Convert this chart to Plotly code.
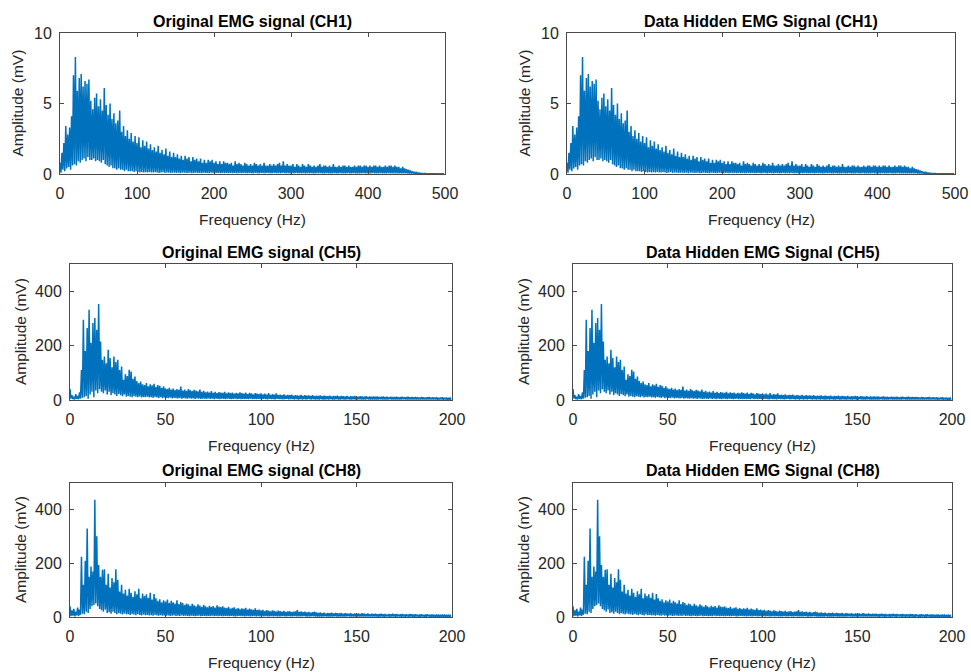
import numpy as np
import plotly.graph_objects as go

# ---------------- data ----------------
# CH1 spectrum: local maxima every 2.5 Hz and local minima midway between them (mV)
CH1_STEP = 2.5
ch1_peaks = [
    0.8, 1.5, 2.2, 3.4, 2.8, 3.3, 4.1, 7.0, 8.3, 5.9, 6.8, 7.1, 6.2, 6.6, 6.4, 6.7, 5.2, 4.6, 5.4, 5.7,
    4.8, 5.3, 4.5, 6.1, 4.9, 4.2, 5.0, 3.9, 4.3, 3.6, 3.8, 4.5, 3.0, 3.4, 2.7, 3.1, 2.5, 2.9, 2.3, 2.7,
    2.2, 2.6, 1.9, 2.4, 2.0, 2.3, 1.8, 2.1, 1.7, 1.9, 1.6, 2.0, 1.5, 1.7, 1.4, 1.8, 1.3, 1.6, 1.2, 1.5,
    1.2, 1.4, 1.1, 1.3, 1.0, 1.3, 1.1, 1.2, 0.9, 1.2, 1.0, 1.1, 0.9, 1.1, 0.8, 1.0, 0.8, 1.0, 0.9, 1.0,
    0.8, 0.9, 0.7, 0.9, 0.7, 0.9, 0.8, 0.8, 0.7, 0.8, 0.6, 0.9, 0.7, 0.8, 0.7, 0.6, 0.8, 0.7, 0.6, 0.7,
    0.6, 0.8, 0.7, 0.6, 0.7, 0.6, 0.8, 0.6, 0.6, 0.7, 0.6, 0.7, 0.6, 0.7, 0.8, 0.6, 0.9, 0.6, 0.7, 0.6,
    0.6, 0.7, 0.5, 0.7, 0.6, 0.5, 0.7, 0.6, 0.5, 0.7, 0.6, 0.5, 0.6, 0.5, 0.6, 0.7, 0.5, 0.6, 0.6, 0.5,
    0.6, 0.5, 0.7, 0.5, 0.5, 0.6, 0.5, 0.6, 0.6, 0.5, 0.6, 0.5, 0.5, 0.6, 0.5, 0.6, 0.6, 0.5, 0.6, 0.6,
    0.5, 0.6, 0.5, 0.6, 0.6, 0.5, 0.6, 0.5, 0.5, 0.6, 0.5, 0.6, 0.6, 0.5, 0.6, 0.5, 0.5, 0.4, 0.5, 0.4,
    0.35, 0.3, 0.25, 0.2, 0.15, 0.12, 0.08, 0.06, 0.05, 0.04, 0.03, 0.03, 0.02, 0.02, 0.02, 0.02, 0.02, 0.01, 0.01, 0.01,
]
ch1_troughs = [
    0.1, 0.3, 0.2, 0.4, 0.5, 0.3, 0.6, 0.7, 0.6, 0.9, 0.8, 1.0, 1.1, 0.9, 1.2, 1.0, 1.0, 1.1, 0.9, 1.0,
    0.9, 0.8, 1.0, 0.7, 0.6, 0.5, 0.6, 0.4, 0.4, 0.3, 0.4, 0.3, 0.3, 0.2, 0.3, 0.2, 0.2, 0.2, 0.15, 0.2,
    0.15, 0.1, 0.15, 0.1, 0.12, 0.1, 0.15, 0.1, 0.1, 0.12, 0.1, 0.08, 0.1, 0.12, 0.08, 0.1, 0.1, 0.08, 0.1, 0.1,
    0.08, 0.1, 0.06, 0.09, 0.1, 0.07, 0.08, 0.1, 0.06, 0.08, 0.09, 0.07, 0.08, 0.06, 0.1, 0.07, 0.08, 0.06, 0.09, 0.07,
    0.06, 0.08, 0.07, 0.05, 0.08, 0.06, 0.07, 0.05, 0.08, 0.06, 0.07, 0.06, 0.05, 0.08, 0.06, 0.07, 0.05, 0.06, 0.08, 0.06,
    0.05, 0.07, 0.06, 0.05, 0.07, 0.06, 0.05, 0.07, 0.06, 0.05, 0.06, 0.07, 0.05, 0.06, 0.05, 0.07, 0.06, 0.05, 0.06, 0.05,
    0.06, 0.05, 0.07, 0.05, 0.06, 0.05, 0.06, 0.04, 0.06, 0.05, 0.06, 0.05, 0.04, 0.06, 0.05, 0.06, 0.04, 0.05, 0.06, 0.05,
    0.05, 0.04, 0.06, 0.05, 0.04, 0.06, 0.05, 0.04, 0.05, 0.06, 0.04, 0.05, 0.06, 0.04, 0.05, 0.05, 0.04, 0.06, 0.05, 0.04,
    0.05, 0.04, 0.06, 0.05, 0.04, 0.05, 0.06, 0.04, 0.05, 0.04, 0.06, 0.05, 0.04, 0.05, 0.04, 0.05, 0.04, 0.04, 0.05, 0.04,
    0.04, 0.04, 0.03, 0.03, 0.02, 0.02, 0.02, 0.02, 0.01, 0.01, 0.01, 0.01, 0.01, 0.01, 0.01, 0.01, 0.01, 0.01, 0.01, 0.01,
]

# CH5 spectrum: local maxima every 1 Hz and minima midway (mV)
CH5_STEP = 1.0
ch5_peaks = [
    40, 18, 12, 22, 15, 28, 110, 295, 180, 265,
    332, 210, 283, 301, 258, 353, 215, 148, 160, 135,
    185, 154, 120, 160, 140, 148, 110, 123, 74, 95,
    88, 111, 105, 78, 86, 70, 62, 68, 58, 55,
    62, 50, 58, 54, 60, 48, 55, 52, 45, 50,
    43, 40, 45, 38, 42, 36, 40, 37, 49, 35,
    38, 34, 40, 36, 33, 37, 35, 32, 38, 30,
    34, 28, 31, 27, 33, 26, 30, 25, 29, 27,
    26, 30, 24, 28, 25, 27, 23, 26, 24, 28,
    25, 23, 27, 22, 26, 24, 21, 25, 23, 22,
    24, 21, 23, 20, 25, 19, 22, 20, 24, 18,
    20, 18, 21, 17, 19, 18, 20, 16, 18, 17,
    16, 19, 15, 18, 16, 17, 15, 18, 14, 16,
    15, 17, 14, 16, 15, 14, 16, 13, 15, 14,
    16, 13, 15, 14, 13, 15, 12, 14, 13, 15,
    13, 12, 14, 13, 12, 14, 11, 13, 12, 13,
    12, 13, 11, 12, 13, 11, 12, 10, 12, 11,
    11, 12, 10, 11, 12, 10, 11, 12, 10, 11,
    10, 11, 10, 9, 11, 10, 9, 10, 11, 9,
    10, 9, 10, 8, 9, 10, 8, 9, 8, 7,
]
ch5_troughs = [
    5, 3, 2, 4, 3, 5, 8, 10, 15, 5,
    20, 30, 10, 35, 25, 40, 30, 25, 35, 20,
    30, 18, 25, 20, 15, 22, 18, 14, 20, 12,
    15, 12, 10, 14, 12, 10, 13, 9, 11, 10,
    12, 9, 10, 8, 11, 9, 8, 10, 7, 9,
    8, 7, 9, 6, 8, 7, 6, 8, 5, 7,
    6, 5, 7, 5, 6, 4, 6, 5, 4, 5,
    5, 4, 6, 4, 5, 3, 5, 4, 3, 5,
    4, 3, 5, 4, 3, 4, 5, 3, 4, 3,
    4, 3, 4, 3, 5, 3, 4, 3, 4, 3,
    3, 4, 3, 2, 4, 3, 3, 2, 4, 3,
    3, 2, 3, 4, 2, 3, 3, 2, 3, 2,
    3, 2, 3, 2, 3, 3, 2, 3, 2, 3,
    2, 3, 2, 2, 3, 2, 3, 2, 2, 3,
    2, 2, 3, 2, 2, 3, 2, 2, 3, 2,
    2, 3, 2, 2, 2, 3, 2, 2, 2, 2,
    2, 2, 3, 2, 2, 2, 2, 3, 2, 2,
    2, 2, 2, 2, 3, 2, 2, 2, 2, 2,
    2, 2, 2, 2, 2, 2, 2, 2, 2, 2,
    2, 2, 1, 2, 2, 1, 2, 1, 1, 1,
]

# CH8 spectrum: local maxima every 1 Hz and minima midway (mV)
CH8_STEP = 1.0
ch8_peaks = [
    40, 25, 30, 20, 35, 28, 225, 120, 210, 330,
    150, 188, 170, 437, 301, 194, 150, 176, 178, 120,
    161, 110, 145, 130, 178, 139, 95, 120, 88, 102,
    80, 105, 90, 75, 96, 85, 105, 70, 88, 78,
    85, 72, 90, 65, 86, 70, 60, 66, 55, 62,
    58, 65, 52, 60, 55, 50, 62, 48, 56, 52,
    45, 50, 47, 42, 49, 44, 40, 47, 43, 38,
    45, 40, 36, 42, 38, 41, 35, 44, 39, 37,
    40, 35, 33, 38, 31, 34, 36, 30, 33, 29,
    32, 30, 34, 28, 31, 29, 27, 32, 26, 28,
    25, 27, 22, 26, 24, 21, 25, 23, 20, 24,
    22, 20, 23, 19, 21, 22, 18, 20, 21, 26,
    19, 21, 18, 20, 17, 19, 16, 18, 20, 17,
    15, 17, 14, 16, 13, 15, 14, 16, 13, 15,
    14, 13, 15, 12, 14, 13, 12, 14, 11, 13,
    12, 13, 11, 14, 12, 11, 13, 10, 12, 11,
    12, 10, 11, 12, 10, 11, 9, 11, 10, 12,
    10, 11, 9, 10, 11, 9, 10, 9, 11, 10,
    9, 10, 8, 9, 10, 8, 9, 10, 8, 9,
    9, 8, 9, 7, 8, 9, 7, 8, 7, 6,
]
ch8_troughs = [
    3, 5, 2, 6, 4, 8, 12, 10, 20, 15,
    30, 40, 45, 50, 40, 30, 25, 20, 28, 15,
    18, 12, 20, 15, 10, 14, 12, 9, 13, 10,
    10, 8, 11, 9, 7, 10, 8, 6, 9, 7,
    8, 6, 7, 5, 8, 6, 5, 7, 5, 6,
    5, 6, 4, 5, 6, 4, 5, 4, 6, 4,
    5, 4, 3, 5, 4, 3, 4, 5, 3, 4,
    4, 3, 4, 3, 5, 3, 4, 3, 4, 3,
    3, 4, 3, 3, 4, 3, 2, 3, 4, 3,
    3, 2, 3, 3, 2, 3, 3, 2, 3, 2,
    3, 2, 3, 2, 2, 3, 2, 3, 2, 2,
    2, 3, 2, 2, 3, 2, 2, 3, 2, 2,
    2, 2, 3, 2, 2, 2, 3, 2, 2, 2,
    2, 2, 2, 3, 2, 2, 2, 2, 3, 2,
    2, 2, 2, 2, 2, 3, 2, 2, 2, 2,
    2, 2, 2, 2, 2, 2, 2, 2, 2, 2,
    2, 1, 2, 2, 1, 2, 2, 1, 2, 2,
    1, 2, 2, 1, 2, 1, 2, 1, 2, 1,
    1, 2, 1, 1, 2, 1, 1, 2, 1, 1,
    1, 1, 1, 1, 1, 1, 1, 1, 1, 1,
]

titles_left = ["Original EMG signal (CH1)", "Original EMG signal (CH5)", "Original EMG signal (CH8)"]
titles_right = ["Data Hidden EMG Signal (CH1)", "Data Hidden EMG Signal (CH5)", "Data Hidden EMG Signal (CH8)"]
x_title = "Frequency (Hz)"
y_title = "Amplitude (mV)"
xticks_ch1 = [0, 100, 200, 300, 400, 500]
xticks_ch58 = [0, 50, 100, 150, 200]
yticks_ch1 = [0, 5, 10]
yticks_ch58 = [0, 200, 400]
x_ranges = [[0, 500], [0, 200], [0, 200]]
y_ranges = [[0, 10], [0, 500], [0, 500]]


def spectrum(peaks, troughs, step):
    n = min(len(peaks), len(troughs))
    f = np.empty(2 * n)
    a = np.empty(2 * n)
    f[0::2] = np.arange(n) * step
    f[1::2] = np.arange(n) * step + step / 2
    a[0::2] = peaks[:n]
    a[1::2] = troughs[:n]
    return f, a


spectra = [
    spectrum(ch1_peaks, ch1_troughs, CH1_STEP),
    spectrum(ch5_peaks, ch5_troughs, CH5_STEP),
    spectrum(ch8_peaks, ch8_troughs, CH8_STEP),
]
xticks = [xticks_ch1, xticks_ch58, xticks_ch58]
yticks = [yticks_ch1, yticks_ch58, yticks_ch58]

# ---------------- layout geometry (pixels) ----------------
W, H = 971, 672
# (left, right, top, bottom) for each panel
boxes = [
    (60, 445, 33, 174), (567, 955, 33, 174),
    (70, 452, 264, 400), (573, 952, 264, 400),
    (70, 452, 483, 617), (573, 952, 483, 617),
]

FONT = "Liberation Sans, Arial, sans-serif"
AXC = "#4a4a4a"
TXT = "#262626"
BLUE = "#0072BD"

fig = go.Figure()
layout = dict(
    width=W, height=H, margin=dict(l=0, r=0, t=0, b=0, autoexpand=False),
    paper_bgcolor="white", plot_bgcolor="white", showlegend=False,
    font=dict(family=FONT, color=TXT),
)
annotations = []

for i, (l, r, t, b) in enumerate(boxes):
    row = i // 2
    col = i % 2
    k = i + 1
    sfx = "" if k == 1 else str(k)
    f, a = spectra[row]
    fig.add_trace(go.Scatter(
        x=f, y=a, mode="lines", line=dict(color=BLUE, width=1.5),
        xaxis="x" + sfx, yaxis="y" + sfx, hoverinfo="skip",
    ))
    common = dict(
        showline=True, linecolor=AXC, linewidth=1, mirror="ticks",
        ticks="inside", ticklen=4, tickcolor=AXC, tickwidth=1,
        showgrid=False, zeroline=False, automargin=False,
        tickfont=dict(family=FONT, size=16, color=TXT),
    )
    layout["xaxis" + sfx] = dict(
        common, domain=[l / W, r / W], anchor="y" + sfx,
        range=x_ranges[row], tickvals=xticks[row], ticktext=[str(v) for v in xticks[row]],
        ticklabelstandoff=5,
    )
    layout["yaxis" + sfx] = dict(
        common, domain=[1 - b / H, 1 - t / H], anchor="x" + sfx,
        range=y_ranges[row], tickvals=yticks[row], ticktext=[str(v) for v in yticks[row]],
        ticklabelstandoff=4,
    )
    title = titles_left[row] if col == 0 else titles_right[row]
    cx = (l + r) / 2
    annotations.append(dict(
        text="<b>" + title + "</b>", x=cx / W, y=1 - (t - 12) / H, xref="paper", yref="paper",
        xanchor="center", yanchor="middle", showarrow=False,
        font=dict(family=FONT, size=16, color="#000000"),
    ))
    annotations.append(dict(
        text=x_title, x=cx / W, y=1 - (b + 45) / H, xref="paper", yref="paper",
        xanchor="center", yanchor="middle", showarrow=False,
        font=dict(family=FONT, size=15.5, color=TXT),
    ))
    annotations.append(dict(
        text=y_title, x=(l - 43 if row == 0 else l - 50) / W, y=1 - ((t + b) / 2) / H,
        xref="paper", yref="paper", xanchor="center", yanchor="middle", showarrow=False,
        textangle=-90, font=dict(family=FONT, size=15.5, color=TXT),
    ))

layout["annotations"] = annotations
fig.update_layout(**layout)
fig.write_html("out.html")
